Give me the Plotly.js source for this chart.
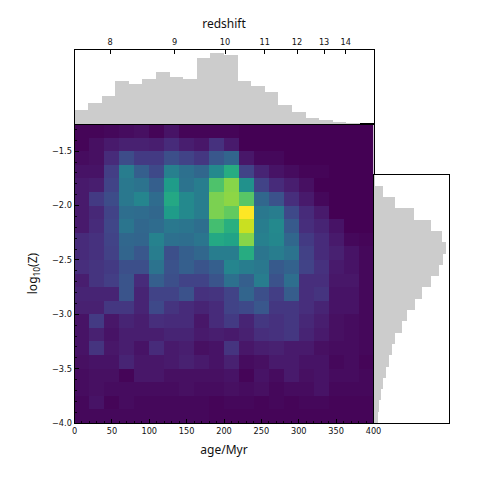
<!DOCTYPE html>
<html><head><meta charset="utf-8">
<script src="https://cdn.plot.ly/plotly-3.0.1.min.js"></script>
<style>html,body{margin:0;padding:0;background:#fff}</style></head>
<body><div id="c" style="width:498px;height:498px"></div>
<script>
const ageRange = [0, 400];
const metRange = [-4, -1.25];
const redshiftTicks = [47.8, 134, 201.4, 254.4, 297.7, 333.9, 362.8];
const redshiftLabels = ['8','9','10','11','12','13','14'];
const topHist = [42,64,82,128,118,133,154,139,133,196,213,207,127,112,96,56,37,17,13,7,3,1];
const rightHist = [3,26,64,119,172,204,215,208,196,171,143,123,99,84,64,54,44,35,27,22,16,12];
const heat = [
[.01,.01,.02,.03,.04,.01,.05,.01,.01,.01,.01,0,0,0,0,0,0,0,0,0],
[.01,.04,.07,.09,.09,.08,.12,.08,.06,.14,.07,0,0,0,0,0,0,0,0,0],
[.03,.04,.12,.23,.17,.17,.24,.2,.16,.27,.32,.06,.02,.02,0,0,0,0,0,0],
[.05,.05,.18,.42,.3,.22,.43,.37,.33,.47,.62,.2,.1,.05,.03,.01,.01,0,0,0],
[.07,.08,.2,.4,.38,.3,.55,.38,.42,.72,.82,.5,.2,.12,.08,.04,0,0,0,0],
[.07,.17,.23,.4,.45,.35,.6,.47,.42,.8,.83,.74,.33,.25,.13,.07,.02,0,0,0],
[.07,.11,.2,.36,.35,.33,.55,.47,.42,.8,.76,1,.4,.42,.22,.12,.07,0,0,0],
[.07,.12,.21,.39,.33,.35,.4,.39,.36,.7,.63,.92,.42,.47,.28,.13,.1,.05,0,0],
[.12,.14,.2,.33,.32,.44,.37,.36,.39,.6,.58,.82,.43,.46,.33,.17,.12,.07,.02,.01],
[.12,.14,.19,.32,.27,.42,.24,.3,.33,.42,.42,.62,.39,.42,.38,.19,.12,.09,.05,.02],
[.13,.15,.17,.24,.24,.38,.25,.3,.26,.3,.45,.42,.4,.28,.31,.2,.14,.07,.05,.02],
[.08,.15,.18,.26,.12,.3,.24,.2,.2,.26,.37,.3,.42,.25,.36,.13,.13,.06,.06,.02],
[.1,.1,.1,.26,.1,.2,.2,.25,.14,.15,.2,.32,.24,.18,.29,.13,.15,.05,.05,.02],
[.09,.09,.16,.16,.1,.22,.15,.12,.1,.12,.2,.22,.27,.16,.16,.13,.1,.05,.05,.02],
[.05,.17,.06,.1,.08,.13,.12,.12,.06,.12,.17,.1,.16,.14,.16,.11,.08,.04,.03,.02],
[.05,.09,.05,.08,.08,.08,.1,.1,.07,.08,.07,.09,.13,.14,.16,.1,.07,.04,.03,.02],
[.05,.15,.06,.08,.05,.12,.07,.08,.04,.05,.15,.06,.08,.09,.07,.07,.04,.03,.03,.02],
[.04,.05,.05,.1,.06,.06,.07,.09,.07,.05,.09,.03,.04,.07,.07,.05,.05,.02,.03,.01],
[.03,.04,.04,.01,.06,.06,.04,.04,.04,.04,.05,.01,.05,.03,.07,.04,.05,.03,.03,.02],
[.03,.04,.03,.03,.03,.03,.03,.04,.03,.03,.04,.03,.04,.02,.03,.03,.05,.02,.02,.02],
[.02,.05,.01,.03,.02,.02,.02,.02,.02,.01,.02,.02,.01,.02,.01,.02,.02,.01,.01,.01],
[.02,.02,.02,.02,.02,.02,.02,.02,.02,.01,.01,.01,.01,.01,.01,.01,.01,.01,.01,.01]
];
const centers = (range, n) => Array.from({length:n}, (_, i) => range[0] + (i + .5) * (range[1] - range[0]) / n);
const W = 498, H = 498, M = {l:15, r:40, t:10, b:30};
const dx = a => a.map(v => (v - M.l) / (W - M.l - M.r));
const dy = a => a.map(v => (H - M.b - v) / (H - M.t - M.b)).reverse();
const ink = '#000', tickFont = {family:'DejaVu Sans', size:8.2, color:'#111'}, titleFont = {family:'Noto Sans', size:12, color:'#111'};
const gray = '#cccccc';
const metCenters = centers(metRange, heat.length);
const traces = [
 {type:'heatmap', x:centers(ageRange, heat[0].length), y:metCenters, z:heat.slice().reverse(), colorscale:'Viridis', zmin:0, zmax:1, showscale:false, zsmooth:false, xaxis:'x', yaxis:'y', hoverinfo:'skip'},
 {type:'bar', x:centers(ageRange, topHist.length), y:topHist, width:(ageRange[1]-ageRange[0])/topHist.length, marker:{color:gray, line:{width:0}}, xaxis:'x2', yaxis:'y2', hoverinfo:'skip'},
 {type:'bar', orientation:'h', y:metCenters, x:rightHist.slice().reverse(), width:(metRange[1]-metRange[0])/rightHist.length, marker:{color:gray, line:{width:0}}, xaxis:'x3', yaxis:'y3', hoverinfo:'skip'}
];
const frame = {showline:true, linecolor:ink, linewidth:1, mirror:true, showgrid:false, zeroline:false};
const layout = {
 width:W, height:H, margin:M, showlegend:false, paper_bgcolor:'#fff', plot_bgcolor:'#fff', bargap:0,
 xaxis:{...frame, domain:dx([74.5,373.5]), range:ageRange, anchor:'y', tickmode:'linear', tick0:0, dtick:50, ticks:'inside', ticklen:4, tickcolor:ink, tickwidth:1, tickfont:tickFont,
  minor:{dtick:10, ticks:'inside', ticklen:2, tickcolor:ink, tickwidth:.8, showgrid:false},
  title:{text:'age/Myr', font:titleFont, standoff:10}, automargin:true},
 yaxis:{...frame, domain:dy([124,423]), range:metRange, anchor:'x', tickmode:'linear', tick0:-4, dtick:.5, tickformat:'.1f', ticks:'inside', ticklen:4, tickcolor:ink, tickwidth:1, tickfont:tickFont,
  minor:{dtick:.1, ticks:'inside', ticklen:2, tickcolor:ink, tickwidth:.8, showgrid:false},
  title:{text:'log<sub>10</sub>(Z)', font:titleFont, standoff:11}, automargin:true},
 xaxis2:{...frame, domain:dx([74.5,373.5]), range:ageRange, anchor:'y2', side:'top', tickmode:'array', tickvals:redshiftTicks, ticktext:redshiftLabels, ticks:'inside', ticklen:4, tickcolor:ink, tickwidth:1, tickfont:tickFont,
  title:{text:'redshift', font:titleFont, standoff:6}, automargin:true},
 yaxis2:{...frame, domain:dy([49.5,124]), range:[0,222], anchor:'x2', showticklabels:false, ticks:''},
 xaxis3:{...frame, domain:dx([374,448.5]), range:[0,223], anchor:'y3', showticklabels:false, ticks:''},
 yaxis3:{...frame, domain:dy([174.5,423]), range:metRange, anchor:'x3', showticklabels:false, ticks:''}
};
Plotly.newPlot('c', traces, layout, {displayModeBar:false, staticPlot:true});
</script></body></html>
